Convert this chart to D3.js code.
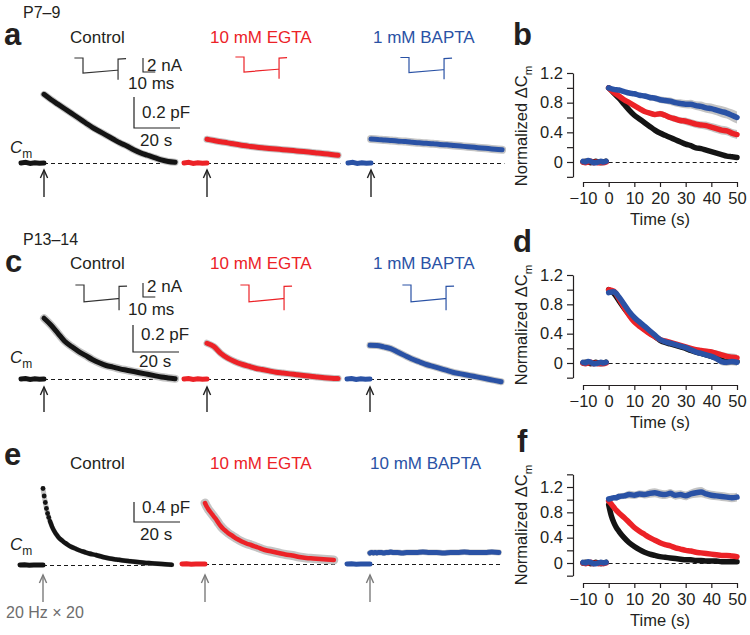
<!DOCTYPE html>
<html><head><meta charset="utf-8">
<script src="https://cdn.jsdelivr.net/npm/d3@7"></script>
<style>
body{margin:0;background:#fff}
svg text{font-family:"Liberation Sans",Arial,Helvetica,sans-serif;fill:#231f20}
</style>
</head><body>
<svg id="fig" width="750" height="635"></svg>
<script>
// ---------------- DATA ----------------
const conditionsAC = ["Control", "10 mM EGTA", "1 mM BAPTA"];
const conditionsE  = ["Control", "10 mM EGTA", "10 mM BAPTA"];
const ageLabels = ["P7\u20139", "P13\u201314"];

// raw Cm traces (pF above baseline), time in s after stimulus
const baseTime  = [-10, -8, -6, -4, -2, 0];
const baseTrace = [0.000, 0.004, -0.003, 0.002, -0.002, 0.000];
const traceTime = [0,3,6,9,12,15,18,21,24,27,30,33,36,39,42,45,48,51,54,57];
const aControl = [0.443,0.41,0.38,0.35,0.32,0.29,0.26,0.23,0.205,0.18,0.155,0.13,0.11,0.085,0.065,0.05,0.035,0.02,0.01,0.005];
const aEGTA    = [0.153,0.145,0.137,0.13,0.122,0.115,0.109,0.103,0.098,0.094,0.09,0.086,0.082,0.078,0.074,0.07,0.065,0.06,0.055,0.05];
const aBAPTA   = [0.155,0.152,0.148,0.145,0.141,0.138,0.134,0.13,0.127,0.124,0.12,0.117,0.113,0.109,0.105,0.101,0.097,0.093,0.089,0.085];
const cControl = [0.45,0.40,0.34,0.28,0.24,0.205,0.175,0.145,0.12,0.10,0.088,0.075,0.065,0.055,0.045,0.035,0.025,0.015,0.008,0.002];
const cEGTA    = [0.265,0.24,0.19,0.155,0.13,0.11,0.095,0.08,0.07,0.06,0.05,0.044,0.038,0.032,0.026,0.02,0.015,0.01,0.006,0.003];
const cBAPTA   = [0.25,0.248,0.238,0.225,0.2,0.175,0.15,0.13,0.11,0.095,0.08,0.065,0.05,0.04,0.03,0.02,0.01,0.0,-0.01,-0.02];
const eTime    = [0,0.5,1,1.5,2,2.5,3,3.5,4,5,6,7,8,9,10,12,14,16,18,20,23,26,29,32,35,38,41,44,47,50,53,56];
const eControl = [1.53,1.38,1.25,1.13,1.03,0.95,0.88,0.82,0.76,0.67,0.60,0.54,0.50,0.46,0.43,0.37,0.33,0.29,0.26,0.23,0.20,0.16,0.13,0.11,0.09,0.075,0.06,0.045,0.035,0.025,0.015,0.005];
const eEGTA    = [1.22,1.17,1.13,1.09,1.06,1.03,1.00,0.97,0.94,0.88,0.81,0.75,0.70,0.66,0.62,0.56,0.50,0.45,0.41,0.38,0.33,0.28,0.25,0.22,0.19,0.17,0.14,0.12,0.11,0.10,0.09,0.08];
const eBAPTA   = [0.22,0.23,0.23,0.22,0.23,0.23,0.22,0.23,0.23,0.23,0.22,0.23,0.23,0.24,0.23,0.23,0.22,0.23,0.23,0.23,0.24,0.23,0.23,0.22,0.23,0.23,0.24,0.23,0.23,0.23,0.24,0.23];

// Ca current insets (ms, nA)
const pulseMs   = [-7, 0, 0, 27.5, 28.5, 28.5, 28.5, 35];
const pulseNaP7 = [0, 0, -2.15, -1.75, -1.75, -3.1, -0.15, -0.1];
const pulseNaP13= [0, 0, -2.4, -1.95, -1.95, -3.6, -0.2, -0.15];

// normalized ΔCm
const normBaseTime = [-10,-9,-8,-7,-6,-5,-4,-3,-2,-1];
const baseBlackN = [0.00,0.01,0.00,-0.01,0.00,0.01,0.00,-0.01,0.00,0.01];
const baseRedN   = [0.00,-0.01,0.00,0.01,-0.01,0.00,-0.01,0.00,-0.01,0.00];
const baseBlueN  = [0.01,0.00,0.02,0.01,-0.01,-0.01,0.00,0.01,0.00,0.01];
const normTime = [0,2,4,6,8,10,12,14,16,18,20,22,24,26,28,30,32,34,36,38,40,42,44,46,48,50];
const bControl = [1.00,0.93,0.86,0.78,0.70,0.63,0.58,0.53,0.48,0.43,0.39,0.36,0.33,0.30,0.27,0.24,0.22,0.19,0.18,0.16,0.14,0.12,0.10,0.08,0.07,0.06];
const bEGTA    = [1.00,0.94,0.89,0.84,0.80,0.76,0.72,0.68,0.66,0.64,0.65,0.63,0.60,0.58,0.56,0.55,0.53,0.51,0.50,0.49,0.47,0.45,0.43,0.42,0.39,0.37];
const bBAPTA   = [1.00,0.98,0.97,0.95,0.93,0.92,0.90,0.89,0.87,0.86,0.84,0.83,0.82,0.80,0.79,0.78,0.78,0.76,0.75,0.73,0.72,0.70,0.68,0.66,0.63,0.60];
const bSemControl = [0.01,0.01,0.01,0.01,0.01,0.012,0.012,0.012,0.012,0.014,0.014,0.014,0.015,0.015,0.015,0.015,0.016,0.016,0.016,0.016,0.017,0.017,0.018,0.018,0.018,0.018];
const bSemEGTA    = [0.01,0.015,0.02,0.02,0.025,0.03,0.03,0.03,0.035,0.035,0.04,0.04,0.04,0.045,0.045,0.05,0.05,0.05,0.05,0.055,0.055,0.06,0.06,0.06,0.06,0.06];
const bSemBAPTA   = [0.01,0.02,0.02,0.025,0.03,0.03,0.035,0.035,0.04,0.04,0.045,0.045,0.05,0.05,0.055,0.055,0.06,0.06,0.065,0.065,0.07,0.07,0.075,0.075,0.08,0.08];
const dControl = [1.00,0.95,0.85,0.75,0.66,0.58,0.52,0.46,0.41,0.36,0.31,0.28,0.26,0.24,0.22,0.20,0.17,0.15,0.13,0.11,0.09,0.07,0.04,0.02,0.02,0.02];
const dEGTA    = [1.00,0.98,0.88,0.76,0.65,0.56,0.50,0.45,0.40,0.36,0.32,0.30,0.28,0.26,0.24,0.22,0.20,0.18,0.17,0.16,0.15,0.13,0.11,0.09,0.08,0.07];
const dBAPTA   = [0.96,0.97,0.90,0.80,0.70,0.62,0.56,0.50,0.44,0.38,0.32,0.29,0.27,0.25,0.23,0.21,0.18,0.15,0.13,0.11,0.09,0.06,0.02,0.01,0.02,0.01];
const dSemControl = [0.02,0.02,0.02,0.02,0.02,0.02,0.02,0.02,0.02,0.02,0.02,0.02,0.02,0.025,0.025,0.025,0.03,0.03,0.03,0.035,0.035,0.04,0.04,0.045,0.045,0.05];
const dSemEGTA    = [0.02,0.02,0.02,0.02,0.02,0.02,0.02,0.02,0.02,0.02,0.025,0.025,0.025,0.025,0.03,0.03,0.03,0.03,0.035,0.035,0.04,0.04,0.045,0.045,0.05,0.05];
const dSemBAPTA   = [0.02,0.02,0.02,0.02,0.02,0.02,0.02,0.02,0.02,0.02,0.025,0.025,0.025,0.025,0.03,0.03,0.03,0.03,0.035,0.035,0.04,0.045,0.05,0.05,0.05,0.05];
const fTime = [0,1,2,3,4,6,8,10,12,14,16,18,20,22,24,26,28,30,32,34,36,38,40,42,44,46,48,50];
const fControl = [0.92,0.75,0.64,0.56,0.50,0.40,0.32,0.26,0.21,0.17,0.14,0.12,0.10,0.09,0.08,0.07,0.06,0.05,0.05,0.04,0.04,0.03,0.03,0.03,0.02,0.02,0.02,0.02];
const fEGTA    = [0.98,0.93,0.88,0.83,0.79,0.72,0.64,0.56,0.50,0.45,0.40,0.36,0.32,0.29,0.27,0.24,0.22,0.20,0.19,0.17,0.16,0.15,0.14,0.13,0.12,0.12,0.11,0.10];
const fBAPTA   = [1.01,1.02,1.03,1.03,1.05,1.06,1.08,1.07,1.09,1.08,1.10,1.11,1.09,1.08,1.10,1.07,1.08,1.06,1.09,1.11,1.12,1.09,1.07,1.06,1.05,1.04,1.03,1.04];
const fSemControl = [0.01,0.01,0.01,0.01,0.01,0.01,0.01,0.01,0.01,0.01,0.01,0.01,0.01,0.01,0.01,0.01,0.01,0.01,0.01,0.01,0.01,0.01,0.01,0.01,0.01,0.01,0.01,0.01];
const fSemEGTA    = [0.015,0.015,0.015,0.015,0.015,0.015,0.015,0.015,0.015,0.015,0.015,0.015,0.015,0.015,0.015,0.015,0.015,0.015,0.015,0.015,0.015,0.015,0.015,0.015,0.015,0.015,0.015,0.015];
const fSemBAPTA   = [0.02,0.03,0.04,0.05,0.05,0.05,0.06,0.06,0.06,0.06,0.07,0.07,0.07,0.07,0.07,0.07,0.07,0.07,0.07,0.08,0.08,0.07,0.07,0.07,0.07,0.07,0.07,0.07];
const normXTicks = [-10,0,10,20,30,40,50];
const normYLabels = [0, 0.4, 0.8, 1.2];

// ---------------- STYLE ----------------
const COL = ["#141414", "#ec2227", "#2a52a5"];
const GRAY = "#c4c4c4";
const ARROW_GRAY = "#7b7b7b";
const svg = d3.select("#fig");
const crisp = v => Math.round(v) + 0.5;

function txt(x, y, s, opt = {}) {
  const t = svg.append("text").attr("x", x).attr("y", y).text(s)
    .attr("font-size", opt.size || 16.5);
  if (opt.fill) t.style("fill", opt.fill);
  if (opt.weight) t.attr("font-weight", opt.weight);
  if (opt.anchor) t.attr("text-anchor", opt.anchor);
  return t;
}
function cmLabel(x, y) {
  const t = svg.append("text").attr("x", x).attr("y", y).attr("font-size", 17);
  t.append("tspan").text("C").attr("font-style", "italic");
  t.append("tspan").text("m").attr("font-size", 12).attr("dy", 5);
}
function arrow(x, yTip, yEnd, color) {
  svg.append("line").attr("x1", x).attr("x2", x).attr("y1", yTip).attr("y2", yEnd)
    .attr("stroke", color).attr("stroke-width", 1.4);
  svg.append("path").attr("d", `M${x-3.6},${yTip+8}L${x},${yTip}L${x+3.6},${yTip+8}`)
    .attr("fill", "none").attr("stroke", color).attr("stroke-width", 1.4);
}
function dashed(g, x1, x2, y) {
  g.append("line").attr("x1", x1).attr("x2", x2).attr("y1", crisp(y)).attr("y2", crisp(y))
    .attr("stroke", "#1a1a1a").attr("stroke-width", 1).attr("stroke-dasharray", "4,3");
}

// ---- raw trace panel ----
function trace(x0, y0, pxPerPF, times, vals, color, opts = {}) {
  const x = d3.scaleLinear().domain([0, 20]).range([x0, x0 + 46]);
  const y = d3.scaleLinear().domain([0, 1]).range([y0, y0 - pxPerPF]);
  const tEnd = times[times.length - 1];
  dashed(svg, x(0), x(tEnd + 1), y(0));
  const ln = d3.line().x((d, i) => x(baseTime[i])).y(d => y(d));
  svg.append("path").attr("d", ln(baseTrace)).attr("fill", "none")
    .attr("stroke", color).attr("stroke-width", 5).attr("stroke-linecap", "round");
  const pts = times.map((t, i) => [t, vals[i]]);
  const line = d3.line().x(d => x(d[0])).y(d => y(d[1])).curve(d3.curveMonotoneX);
  svg.append("path").attr("d", line(pts)).attr("fill", "none").attr("stroke", GRAY)
    .attr("stroke-width", opts.halo || 7).attr("stroke-linecap", "round");
  if (opts.dots) {
    const start = opts.lineFrom || 0;
    svg.append("path").attr("d", line(pts.filter(d => d[0] >= start))).attr("fill", "none")
      .attr("stroke", color).attr("stroke-width", opts.width || 4.5).attr("stroke-linecap", "round");
    svg.append("g").selectAll("circle").data(pts.filter(d => d[0] < start)).join("circle")
      .attr("cx", d => x(d[0])).attr("cy", d => y(d[1])).attr("r", 2.4).attr("fill", color);
  } else {
    svg.append("path").attr("d", line(pts)).attr("fill", "none").attr("stroke", color)
      .attr("stroke-width", opts.width || 5).attr("stroke-linecap", "round");
  }
  arrow(x(0), y0 + opts.arrowTip, y0 + opts.arrowEnd, opts.arrowColor || "#222");
}

function pulse(xStep, y0, na, color) {
  const x = d3.scaleLinear().domain([0, 10]).range([xStep, xStep + 12.3]);
  const y = d3.scaleLinear().domain([0, -2]).range([y0, y0 + 14]);
  const ln = d3.line().x((d, i) => x(pulseMs[i])).y(d => y(d));
  svg.append("path").attr("d", ln(na)).attr("fill", "none").attr("stroke", color).attr("stroke-width", 1.2);
}

function scaleBarPF(x0, yb, hPx, lbl, lblY, sY) {
  svg.append("path").attr("d", `M${x0},${yb - hPx}V${yb}H${x0 + 46}`)
    .attr("fill", "none").attr("stroke", "#222").attr("stroke-width", 1.2);
  txt(x0 + 8, lblY, lbl, { size: 17 });
  txt(x0 + 6, sY, "20 s", { size: 17 });
}
function scaleBarNA(x0, yTop, nAY, msY) {
  svg.append("path").attr("d", `M${x0},${yTop}V${yTop + 14}H${x0 + 12.3}`)
    .attr("fill", "none").attr("stroke", "#222").attr("stroke-width", 1.1);
  txt(x0 + 4, nAY, "2 nA", { size: 17 });
  txt(x0 - 15, msY, "10 ms", { size: 17 });
}

// ---------------- ROW A ----------------
txt(23, 18, ageLabels[0], { size: 16 });
txt(4, 45, "a", { size: 31, weight: "bold" });
txt(70, 43, conditionsAC[0], { size: 17 });
txt(210, 43, conditionsAC[1], { size: 17, fill: COL[1] });
txt(373, 43, conditionsAC[2], { size: 17, fill: COL[2] });
pulse(83, 58, pulseNaP7, "#333");
pulse(244, 57, pulseNaP7, COL[1]);
pulse(409, 57.5, pulseNaP7, COL[2]);
scaleBarNA(143, 58, 71, 89);
scaleBarPF(134, 128, 31, "0.2 pF", 118, 146);
cmLabel(10, 153);
trace(44, 163, 155, traceTime, aControl, COL[0], { arrowTip: 7, arrowEnd: 34 });
trace(207, 163, 155, traceTime, aEGTA, COL[1], { arrowTip: 7, arrowEnd: 34 });
trace(371, 163, 155, traceTime, aBAPTA, COL[2], { arrowTip: 7, arrowEnd: 34, halo: 8 });

// ---------------- ROW C ----------------
txt(23, 245, ageLabels[1], { size: 16 });
txt(5, 272, "c", { size: 31, weight: "bold" });
txt(70, 269, conditionsAC[0], { size: 17 });
txt(210, 269, conditionsAC[1], { size: 17, fill: COL[1] });
txt(373, 269, conditionsAC[2], { size: 17, fill: COL[2] });
pulse(84, 285, pulseNaP13, "#333");
pulse(249, 285, pulseNaP13, COL[1]);
pulse(411, 285, pulseNaP13, COL[2]);
scaleBarNA(143, 283, 292, 315);
scaleBarPF(133, 352, 27, "0.2 pF", 340, 367);
cmLabel(10, 363);
trace(44, 379, 135, traceTime, cControl, COL[0], { arrowTip: 8, arrowEnd: 33, halo: 8 });
trace(207, 379, 135, traceTime, cEGTA, COL[1], { arrowTip: 8, arrowEnd: 33 });
trace(370, 379, 135, traceTime, cBAPTA, COL[2], { arrowTip: 8, arrowEnd: 33 });

// ---------------- ROW E ----------------
txt(4, 465, "e", { size: 31, weight: "bold" });
txt(70, 469, conditionsE[0], { size: 17 });
txt(210, 469, conditionsE[1], { size: 17, fill: COL[1] });
txt(370, 469, conditionsE[2], { size: 17, fill: COL[2] });
scaleBarPF(134, 522, 20, "0.4 pF", 513, 540);
cmLabel(10, 550);
trace(43, 565, 50, eTime, eControl, COL[0], { dots: true, lineFrom: 3, width: 4.5, halo: 5, arrowTip: 10, arrowEnd: 37, arrowColor: ARROW_GRAY });
trace(205, 564, 50, eTime, eEGTA, COL[1], { width: 4.5, halo: 9, arrowTip: 11, arrowEnd: 38, arrowColor: ARROW_GRAY });
trace(370, 564, 50, eTime, eBAPTA, COL[2], { width: 5, halo: 6, arrowTip: 11, arrowEnd: 38, arrowColor: ARROW_GRAY });
txt(6, 618, "20 Hz \u00d7 20", { size: 16, fill: "#6d6d6d" });

// ---------------- NORMALIZED PANELS ----------------
function normPanel(cfg) {
  const x = d3.scaleLinear().domain([-10, 50]).range([583, 737]);
  const pxPerUnit = (cfg.y0 - cfg.y12) / 1.2;
  const y = d3.scaleLinear().domain([0, 1]).range([cfg.y0, cfg.y0 - pxPerUnit]);
  const g = svg.append("g");
  txt(cfg.letterX, cfg.letterY, cfg.letter, { size: 31, weight: "bold" });
  const yAx = d3.scaleLinear().domain([-0.2, cfg.yMax]).range([y(-0.2), y(cfg.yMax)]);
  const yTicks = d3.range(-0.2, cfg.yMax + 0.001, 0.2).map(v => +v.toFixed(1));
  const ga = g.append("g").attr("transform", "translate(573,0)")
    .call(d3.axisLeft(yAx).tickValues(yTicks).tickSize(6).tickSizeOuter(0).tickPadding(4)
      .tickFormat(v => normYLabels.some(l => Math.abs(l - v) < 1e-6) ? (v === 0 ? "0" : d3.format(".1f")(v)) : ""));
  const gx = g.append("g").attr("transform", `translate(0,${cfg.xAxisY})`)
    .call(d3.axisBottom(x).tickValues(normXTicks).tickSize(5).tickSizeOuter(0).tickPadding(5));
  [ga, gx].forEach(a => {
    a.selectAll("path,line").attr("stroke", "#231f20").attr("stroke-width", 1.2);
    a.selectAll("text").attr("font-size", 16.5).attr("font-family", null).style("fill", "#231f20");
  });
  txt(660, cfg.xAxisY + 43, "Time (s)", { anchor: "middle" });
  const yl = svg.append("text").attr("transform", `translate(527,${cfg.labelCY}) rotate(-90)`)
    .attr("text-anchor", "middle").attr("font-size", 16.5);
  yl.append("tspan").text("Normalized \u0394C");
  yl.append("tspan").text("m").attr("font-size", 11.5).attr("dy", 5);
  dashed(g, x(0), x(50), y(0));
  const series = cfg.series;
  const area = d3.area().x(d => x(d[0])).y0(d => y(d[1] - d[2])).y1(d => y(d[1] + d[2])).curve(d3.curveMonotoneX);
  const line = d3.line().x(d => x(d[0])).y(d => y(d[1])).curve(d3.curveMonotoneX);
  series.forEach(s => {
    const pts = cfg.time.map((t, i) => [t, s.vals[i], s.sem[i]]);
    g.append("path").attr("d", area(pts)).attr("fill", GRAY);
  });
  const bases = [baseBlackN, baseRedN, baseBlueN];
  series.forEach((s, k) => {
    const bp = normBaseTime.map((t, i) => [t, bases[k][i]]);
    g.append("path").attr("d", line(bp)).attr("fill", "none").attr("stroke", s.color)
      .attr("stroke-width", 5.5).attr("stroke-linecap", "round");
    const pts = cfg.time.map((t, i) => [t, s.vals[i]]);
    g.append("path").attr("d", line(pts)).attr("fill", "none").attr("stroke", s.color)
      .attr("stroke-width", 5.5).attr("stroke-linecap", "round");
  });
}

normPanel({ letter: "b", letterX: 513, letterY: 45, y0: 162, y12: 73, yMax: 1.2, xAxisY: 182, labelCY: 126,
  time: normTime, series: [
    { vals: bControl, sem: bSemControl, color: COL[0] },
    { vals: bEGTA, sem: bSemEGTA, color: COL[1] },
    { vals: bBAPTA, sem: bSemBAPTA, color: COL[2] }] });
normPanel({ letter: "d", letterX: 513, letterY: 252, y0: 363, y12: 275, yMax: 1.2, xAxisY: 385, labelCY: 325,
  time: normTime, series: [
    { vals: dControl, sem: dSemControl, color: COL[0] },
    { vals: dEGTA, sem: dSemEGTA, color: COL[1] },
    { vals: dBAPTA, sem: dSemBAPTA, color: COL[2] }] });
normPanel({ letter: "f", letterX: 517, letterY: 452, y0: 563, y12: 487, yMax: 1.4, xAxisY: 583, labelCY: 525,
  time: fTime, series: [
    { vals: fControl, sem: fSemControl, color: COL[0] },
    { vals: fEGTA, sem: fSemEGTA, color: COL[1] },
    { vals: fBAPTA, sem: fSemBAPTA, color: COL[2] }] });
</script>
</body></html>
